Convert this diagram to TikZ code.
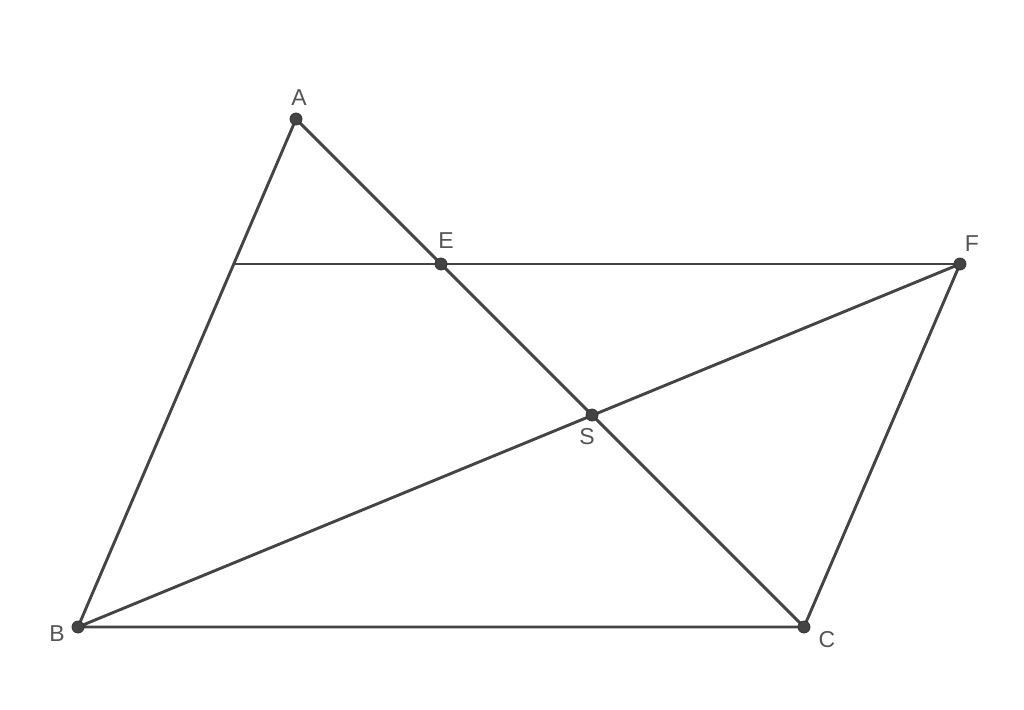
\documentclass[tikz,border=0pt]{standalone}
\usepackage{fontspec}
\setmainfont{Liberation Sans}
\definecolor{ln}{HTML}{444444}
\definecolor{lbl}{HTML}{555555}
\tikzset{
  seg/.style={draw=ln, line width=2.9pt, line cap=round},
  pt/.style={circle, fill=ln, draw=black!80, line width=0.8pt, inner sep=0pt, minimum size=12pt},
  lab/.style={text=lbl, font=\fontsize{23}{23}\selectfont, inner sep=0pt}
}
\begin{document}
\begin{tikzpicture}[x=1pt,y=-1pt]
\useasboundingbox (0,0) rectangle (1024,709);
\coordinate (A) at (296,119);
\coordinate (B) at (78,627);
\coordinate (C) at (804,627);
\coordinate (E) at (441,264);
\coordinate (F) at (960,264);
\coordinate (S) at (592,415);
\coordinate (G) at (233.8,264);
\draw[seg] (A) -- (B) -- (C) -- (F) -- (B);
\draw[seg] (A) -- (C);
\draw[seg] (G) -- (F);
\foreach \p in {A,B,C,E,F,S} \node[pt] at (\p) {};
\node[lab] (lA) at (299,98) {A};
\node[lab] (lB) at (57,634) {B};
\node[lab] (lC) at (827,640) {C};
\node[lab] (lE) at (446,241) {E};
\node[lab] (lF) at (972,244) {F};
\node[lab] (lS) at (587,437) {S};
\end{tikzpicture}
\end{document}
